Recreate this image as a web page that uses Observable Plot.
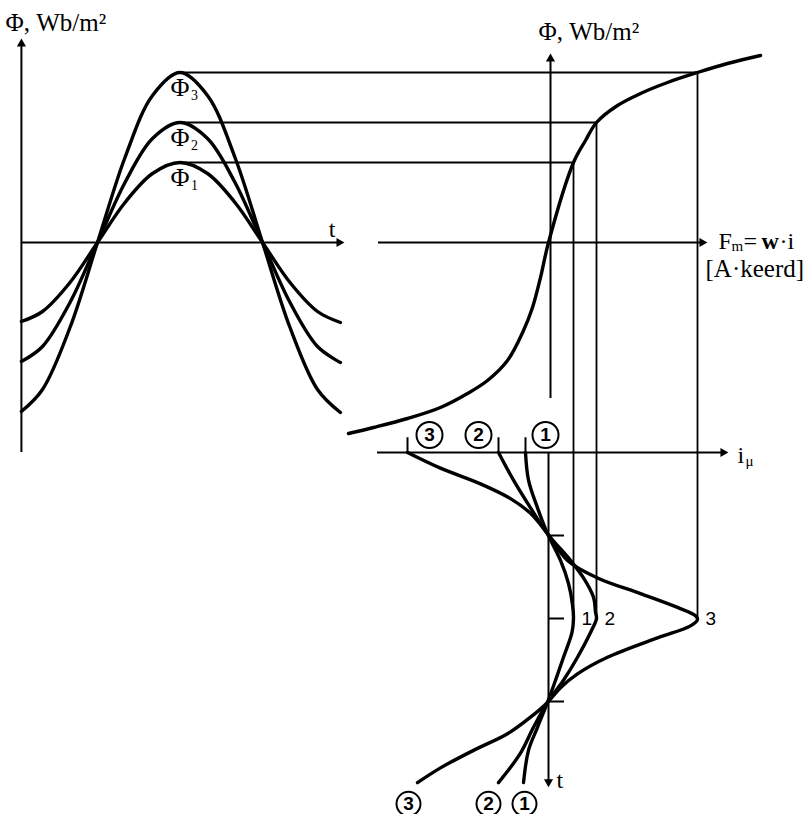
<!DOCTYPE html>
<html>
<head>
<meta charset="utf-8">
<script src="https://cdn.jsdelivr.net/npm/d3@7"></script>
<script src="https://cdn.jsdelivr.net/npm/@observablehq/plot@0.6"></script>
<style>
  html, body { margin: 0; padding: 0; background: #fff; }
  #fig { position: relative; width: 808px; height: 814px; overflow: hidden; background: #fff; }
</style>
</head>
<body>
<div id="fig"></div>
<script>
// ---- Flux waveforms Φ(t), t in electrical degrees (trough at t = 0) ----
const tDeg = [7, 30, 60, 90, 120, 150, 180, 210, 240, 270, 300, 330, 355];
const phi1 = [-0.79, -0.69, -0.40, 0, 0.40, 0.69, 0.80, 0.69, 0.40, 0, -0.40, -0.69, -0.80];
const phi2 = [-1.19, -1.04, -0.60, 0, 0.60, 1.04, 1.20, 1.04, 0.60, 0, -0.60, -1.04, -1.20];
const phi3 = [-1.69, -1.47, -0.85, 0, 0.85, 1.47, 1.70, 1.47, 0.85, 0, -0.85, -1.47, -1.70];
const phiPeak = [0.80, 1.20, 1.70];

// ---- Magnetization curve Φ(Fm) ----
const magF   = [-2.00, -1.75, -1.41, -1.08, -0.81, -0.61, -0.41, -0.25, -0.16, -0.08, 0, 0.25, 0.37, 0.48, 0.69, 0.92, 1.19, 1.49, 1.79, 2.12];
const magPhi = [-1.91, -1.85, -1.76, -1.65, -1.51, -1.38, -1.18, -0.88, -0.65, -0.35, 0, 0.80, 1.02, 1.20, 1.37, 1.49, 1.60, 1.70, 1.79, 1.87];
const fPeak = [0.25, 0.48, 1.49];

// ---- Magnetizing current i_mu(t) for each flux level ----
const i1T = [0, 30, 60, 88, 117, 142, 165, 180, 195, 222, 247, 271, 298, 323, 358];
const i1  = [-0.23, -0.20, -0.11, -0.01, 0.12, 0.20, 0.24, 0.25, 0.235, 0.15, 0.07, -0.01, -0.11, -0.20, -0.25];
const i2T = [0, 30, 60, 88, 117, 136, 157, 173, 180, 193, 222, 247, 271, 298, 326, 358];
const i2  = [-0.50, -0.35, -0.18, -0.01, 0.22, 0.35, 0.45, 0.47, 0.48, 0.43, 0.29, 0.15, -0.01, -0.15, -0.28, -0.50];
const i3T = [0, 17, 34, 50, 66, 88, 117, 136, 153, 168, 177, 181, 188, 201, 222, 240, 255, 271, 287, 305, 323, 342, 358];
const i3  = [-1.41, -1.08, -0.68, -0.38, -0.18, -0.01, 0.19, 0.49, 0.92, 1.29, 1.47, 1.49, 1.42, 1.09, 0.59, 0.29, 0.12, -0.01, -0.18, -0.41, -0.75, -1.08, -1.31];

const curveIds = ["1", "2", "3"];

// ---- layout ----
const W = 808, H = 814;
const SPLIT_X = 362, SPLIT_Y = 426;           // seams between the three panels
const T0_LEFT = 14.5, PX_PER_DEG_LEFT = 330 / 360;
const F0_PX = 548, PX_PER_F = 100;
const PHI0_PX = 242, PX_PER_PHI = 100;
const T0_DOWN = 452, PX_PER_DEG_DOWN = 332 / 360;

const T_SPLIT = (SPLIT_X - T0_LEFT) / PX_PER_DEG_LEFT;
const F_SPLIT = (SPLIT_X - F0_PX) / PX_PER_F;
const F_END = (W - F0_PX) / PX_PER_F;
const PHI_SPLIT = (PHI0_PX - SPLIT_Y) / PX_PER_PHI;
const T_TOP = (SPLIT_Y - T0_DOWN) / PX_PER_DEG_DOWN;
const T_BOTTOM = (H - T0_DOWN) / PX_PER_DEG_DOWN;

const SERIF = "'Liberation Serif', 'Times New Roman', serif";
const SANS = "'Liberation Sans', Arial, sans-serif";
const INK = "#000";
const CURVE_W = 3.4, AXIS_W = 2, GUIDE_W = 1.8;

const frame = {
  width: W, height: H, margin: 0,
  style: "position:absolute;left:0;top:0;background:transparent;overflow:visible;max-width:none;"
};

const one = [0];
const txt = (x, y, text, o = {}) =>
  Plot.text(one, {x: () => x, y: () => y, text: () => text, fontFamily: SERIF, fontSize: 24,
                  textAnchor: "start", lineAnchor: "middle", fill: INK, ...o});
const head = (x, y, rotate, dx, dy) =>
  Plot.dot(one, {x: () => x, y: () => y, symbol: "triangle", r: 3.4, fill: INK, stroke: "none",
                 rotate, dx, dy});
const hRule = (y, x1, x2, w = AXIS_W) =>
  Plot.ruleY(one, {y: () => y, x1: () => x1, x2: () => x2, stroke: INK, strokeWidth: w});
const vRule = (x, y1, y2, w = AXIS_W) =>
  Plot.ruleX(one, {x: () => x, y1: () => y1, y2: () => y2, stroke: INK, strokeWidth: w});

// ---- left panel: Φ(t) ----
const T_AXIS = 7;
const left = Plot.plot({
  ...frame,
  x: {domain: [0, T_SPLIT], range: [T0_LEFT, SPLIT_X], axis: null},
  y: {domain: [-2, 2], range: [PHI0_PX + 2 * PX_PER_PHI, PHI0_PX - 2 * PX_PER_PHI], axis: null},
  marks: [
    vRule(T_AXIS, -2.1, 2.0),
    head(T_AXIS, 2.04, 0, 0, 5.4),
    hRule(0, T_AXIS, 356),
    head(359.5, 0, 90, -5.4, 0),
    ...[phi1, phi2, phi3].map(v =>
      Plot.line(v, {x: tDeg, y: v, curve: "catmull-rom", stroke: INK, strokeWidth: CURVE_W})),
    Plot.ruleY(phiPeak, {y: d => d, x1: 180, x2: T_SPLIT, stroke: INK, strokeWidth: GUIDE_W}),
    Plot.text(phiPeak, {x: () => 180, y: d => d - 0.15, text: () => "Φ", fontFamily: SERIF,
                        fontSize: 26, textAnchor: "middle", lineAnchor: "middle", fill: INK}),
    Plot.text(phiPeak, {x: () => 180, y: d => d - 0.15, text: (d, i) => curveIds[i], fontFamily: SERIF,
                        fontSize: 14, textAnchor: "start", lineAnchor: "middle", dx: 11, dy: 8, fill: INK}),
    txt(346, 0.13, "t", {textAnchor: "middle"}),
    txt(-10.4, 2.2, "Φ, Wb/m²", {fontSize: 25})
  ]
});

// ---- upper right panel: magnetization curve Φ(Fm) ----
const upper = Plot.plot({
  ...frame,
  x: {domain: [F_SPLIT, F_END], range: [SPLIT_X, W], axis: null},
  y: {domain: [PHI_SPLIT, 2], range: [SPLIT_Y, PHI0_PX - 2 * PX_PER_PHI], axis: null},
  marks: [
    vRule(0.02, -1.56, 1.85),
    head(0.02, 1.89, 0, 0, 5.4),
    hRule(0, -1.70, 1.55),
    head(1.59, 0, 90, -5.4, 0),
    Plot.line(magPhi, {x: magF, y: magPhi, curve: "catmull-rom", stroke: INK, strokeWidth: CURVE_W}),
    Plot.ruleY(phiPeak, {y: d => d, x1: F_SPLIT, x2: (d, i) => fPeak[i], stroke: INK, strokeWidth: GUIDE_W}),
    Plot.ruleX(fPeak, {x: d => d, y1: (d, i) => phiPeak[i], y2: PHI_SPLIT, stroke: INK, strokeWidth: GUIDE_W}),
    txt(-0.10, 2.11, "Φ, Wb/m²", {fontSize: 25}),
    txt(1.70, 0.01, "F"),
    txt(1.83, 0.01, "m", {fontSize: 15, dy: 5}),
    txt(1.95, 0.01, "="),
    txt(2.13, 0.01, "w", {fontWeight: "bold"}),
    txt(2.31, 0.01, "·i"),
    txt(1.57, -0.26, "[A·keerd]", {fontSize: 25})
  ]
});

// ---- lower right panel: magnetizing current i_mu(t), time running downward ----
const lower = Plot.plot({
  ...frame,
  x: {domain: [F_SPLIT, F_END], range: [SPLIT_X, W], axis: null},
  y: {domain: [T_TOP, T_BOTTOM], range: [SPLIT_Y, H], axis: null},
  marks: [
    hRule(0, -1.71, 1.76),
    head(1.80, 0, 90, -5.4, 0),
    vRule(0, 0, 358),
    head(0, 363, 180, 0, -5.4),
    Plot.ruleY([90, 180, 270], {y: d => d, x1: 0, x2: 0.16, stroke: INK, strokeWidth: AXIS_W}),
    Plot.ruleX([i1[0], i2[0], i3[0]], {x: d => d, y1: -16, y2: 0, stroke: INK, strokeWidth: AXIS_W}),
    Plot.ruleX(fPeak, {x: d => d, y1: T_TOP, y2: 180, stroke: INK, strokeWidth: GUIDE_W}),
    Plot.line(i1, {x: i1, y: i1T, curve: "catmull-rom", stroke: INK, strokeWidth: CURVE_W}),
    Plot.line(i2, {x: i2, y: i2T, curve: "catmull-rom", stroke: INK, strokeWidth: CURVE_W}),
    Plot.line(i3, {x: i3, y: i3T, curve: "catmull-rom", stroke: INK, strokeWidth: CURVE_W}),
    // curve numbers beside the current peaks
    Plot.text(fPeak, {x: d => d, y: () => 180, text: (d, i) => curveIds[i], dx: 8,
                      fontFamily: SANS, fontSize: 19, textAnchor: "start", lineAnchor: "middle", fill: INK}),
    // circled numbers at the start and at the end of each current wave
    Plot.dot([-0.03, -0.70, -1.19], {x: d => d, y: () => -19, r: 13, stroke: INK, strokeWidth: 2, fill: "none"}),
    Plot.text([-0.03, -0.70, -1.19], {x: d => d, y: () => -19, text: (d, i) => curveIds[i],
                      fontFamily: SANS, fontWeight: "bold", fontSize: 19, textAnchor: "middle", lineAnchor: "middle", fill: INK}),
    Plot.dot([-0.24, -0.60, -1.40], {x: d => d, y: () => 381, r: 12, stroke: INK, strokeWidth: 2, fill: "none"}),
    Plot.text([-0.24, -0.60, -1.40], {x: d => d, y: () => 381, text: (d, i) => curveIds[i],
                      fontFamily: SANS, fontWeight: "bold", fontSize: 19, textAnchor: "middle", lineAnchor: "middle", fill: INK}),
    txt(1.89, 3.3, "i"),
    txt(1.97, 3.3, "μ", {fontSize: 15, dy: 6}),
    txt(0.08, 355, "t")
  ]
});

const fig = document.getElementById("fig");
fig.append(left, upper, lower);
</script>
</body>
</html>
